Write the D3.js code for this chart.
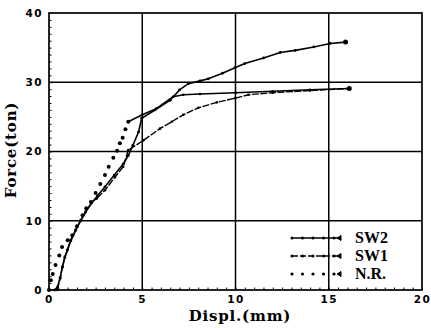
<!DOCTYPE html>
<html>
<head>
<meta charset="utf-8">
<script src="https://cdn.jsdelivr.net/npm/d3@7"></script>
<style>
  body { margin: 0; background: #fff; }
  svg { display: block; }
  .tick-label { font-family: "DejaVu Sans", sans-serif; font-weight: bold; font-size: 10.5px; letter-spacing: 1.5px; }
  .axis-label { font-family: "DejaVu Serif", serif; font-weight: bold; font-size: 15px; }
  .legend-text { font-family: "Liberation Serif", serif; font-weight: bold; font-size: 16px; }
</style>
</head>
<body>
<div id="vis"></div>
<script>
// data (Displ. in mm, Force in ton)
const nrX = [0, 0.1, 0.2, 0.35, 0.55, 0.7, 1.0, 1.25, 1.5, 1.8, 2.0, 2.25, 2.5, 2.75, 3.0, 3.2, 3.45, 3.65, 3.8, 3.95, 4.1, 4.25, 5.0, 5.75, 6.65, 7.2, 8.1, 10, 12, 14, 16.1];
const nrY = [0, 1.4, 2.3, 3.6, 5.0, 6.2, 7.2, 7.9, 9.2, 10.8, 11.8, 12.7, 14.0, 15.3, 16.6, 17.8, 19.1, 20.1, 21.2, 22.0, 23.2, 24.3, 25.3, 26.2, 27.9, 28.2, 28.3, 28.5, 28.7, 28.9, 29.1];
const nrKink = 21; // N.R. is dots only up to here, then a line

const sw2X = [0.3, 0.45, 0.6, 0.72, 0.85, 1.0, 1.17, 1.43, 1.7, 1.97, 2.3, 2.6, 3.0, 3.5, 3.98, 4.25, 4.5, 4.8, 4.97, 5.68, 6.5, 7.0, 7.47, 8.1, 8.54, 9.3, 9.97, 10.5, 11.5, 12.4, 13.2, 14.2, 15.07, 15.9];
const sw2Y = [0, 0.4, 1.8, 3.3, 4.7, 5.8, 7.1, 8.6, 10.0, 11.3, 12.6, 13.6, 14.9, 16.6, 18.2, 19.4, 20.9, 22.8, 24.8, 26.0, 27.4, 28.9, 29.8, 30.2, 30.5, 31.3, 32.1, 32.7, 33.5, 34.3, 34.6, 35.1, 35.6, 35.8];

const sw1X = [0.45, 0.6, 0.72, 0.85, 0.98, 1.16, 1.43, 1.7, 1.97, 2.3, 2.56, 3.0, 3.54, 3.98, 4.25, 5.06, 5.95, 6.58, 7.2, 8.0, 9.0, 9.97, 10.7, 12, 14, 16.1];
const sw1Y = [0, 1.7, 3.4, 4.8, 5.8, 7.2, 8.7, 10.1, 11.3, 12.7, 13.2, 14.4, 16.3, 17.8, 20.2, 21.6, 23.3, 24.3, 25.3, 26.3, 27.1, 27.7, 28.2, 28.5, 28.8, 29.1];

const xTicks = [0, 5, 10, 15, 20];
const yTicks = [0, 10, 20, 30, 40];
const legendNames = ['SW2', 'SW1', 'N.R.'];

const W = 431, H = 328;
const margin = {top: 13, right: 9, bottom: 38, left: 49};
const width = W - margin.left - margin.right;
const height = H - margin.top - margin.bottom;

const svg = d3.select('#vis')
  .append('svg')
  .attr('width', W)
  .attr('height', H);

const g = svg.append('g')
  .attr('transform', `translate(${margin.left},${margin.top})`);

const xScale = d3.scaleLinear().domain([0, 20]).range([0, width]);
const yScale = d3.scaleLinear().domain([0, 40]).range([height, 0]);

// grid lines
g.selectAll('.vgrid')
  .data(xTicks.slice(1, -1))
  .join('line')
  .attr('x1', d => xScale(d)).attr('x2', d => xScale(d))
  .attr('y1', 0).attr('y2', height)
  .attr('stroke', '#000').attr('stroke-width', 1.5);

g.selectAll('.hgrid')
  .data(yTicks.slice(1, -1))
  .join('line')
  .attr('x1', 0).attr('x2', width)
  .attr('y1', d => yScale(d)).attr('y2', d => yScale(d))
  .attr('stroke', '#000').attr('stroke-width', 1.5);

// frame
g.append('rect')
  .attr('width', width).attr('height', height)
  .attr('fill', 'none').attr('stroke', '#000').attr('stroke-width', 1.7);

// small inward ticks along left and bottom
g.append('g')
  .call(d3.axisBottom(xScale).tickValues(d3.range(0, 20.01, 0.5)).tickSize(-2.5).tickFormat(''))
  .attr('transform', `translate(0,${height})`)
  .call(a => a.select('.domain').remove());

g.append('g')
  .call(d3.axisLeft(yScale).tickValues(d3.range(0, 40.01, 1)).tickSize(-2.5).tickFormat(''))
  .call(a => a.select('.domain').remove());

// tick labels
const xAxis = g.append('g')
  .attr('transform', `translate(0,${height})`)
  .call(d3.axisBottom(xScale).tickValues(xTicks).tickSize(0).tickPadding(6));
xAxis.select('.domain').remove();
xAxis.selectAll('text').attr('class', 'tick-label').attr('fill', '#000');

const yAxis = g.append('g')
  .call(d3.axisLeft(yScale).tickValues(yTicks).tickSize(0).tickPadding(6));
yAxis.select('.domain').remove();
yAxis.selectAll('text').attr('class', 'tick-label').attr('fill', '#000');

// axis titles
svg.append('text')
  .attr('class', 'axis-label')
  .attr('x', 240).attr('y', 321)
  .attr('text-anchor', 'middle')
  .style('letter-spacing', '0.8px')
  .text('Displ.(mm)');

svg.append('text')
  .attr('class', 'axis-label')
  .attr('transform', 'translate(16,150) rotate(-90)')
  .attr('text-anchor', 'middle')
  .style('letter-spacing', '0.8px')
  .text('Force(ton)');

// curves
const line = d3.line().x(d => xScale(d[0])).y(d => yScale(d[1]));
const sw2 = d3.zip(sw2X, sw2Y);
const sw1 = d3.zip(sw1X, sw1Y);
const nr = d3.zip(nrX, nrY);

g.append('path').datum(sw2)
  .attr('d', line).attr('fill', 'none').attr('stroke', '#000').attr('stroke-width', 1.6);
g.append('path').datum(sw1)
  .attr('d', line).attr('fill', 'none').attr('stroke', '#000').attr('stroke-width', 1.4)
  .attr('stroke-dasharray', '7,1.5');
g.append('path').datum(nr.slice(nrKink))
  .attr('d', line).attr('fill', 'none').attr('stroke', '#000').attr('stroke-width', 1.5);

function dots(data, r) {
  g.append('g').selectAll('circle')
    .data(data)
    .join('circle')
    .attr('cx', d => xScale(d[0]))
    .attr('cy', d => yScale(d[1]))
    .attr('r', r)
    .attr('fill', '#000');
}
dots(sw2, 1.4);
dots(sw1, 1.3);
dots(nr.slice(0, nrKink + 1), 2);
dots(nr.slice(nrKink), 1.3);

// end markers
dots([sw2[sw2.length - 1]], 2.5);
dots([nr[nr.length - 1]], 2.5);

// legend
const legend = svg.append('g');
const legY = [238, 256, 274];
legendNames.forEach((name, i) => {
  const y = legY[i];
  const row = legend.append('g');
  if (i < 2) {
    row.append('line')
      .attr('x1', 292).attr('x2', 340).attr('y1', y).attr('y2', y)
      .attr('stroke', '#000').attr('stroke-width', i === 0 ? 1.6 : 1.3)
      .attr('stroke-dasharray', i === 0 ? null : '6,2');
  }
  row.selectAll('circle')
    .data(d3.range(292, 336, 10.5))
    .join('circle')
    .attr('cx', d => d).attr('cy', y).attr('r', i === 2 ? 1.6 : 1.5)
    .attr('fill', '#000');
  row.append('path')
    .attr('d', `M341,${y - 2.5}L337,${y}L341,${y + 2.5}Z`)
    .attr('fill', '#000').attr('stroke', '#000').attr('stroke-width', 1);
  row.append('text')
    .attr('class', 'legend-text')
    .attr('x', 355).attr('y', y + 5)
    .text(name);
});
</script>
</body>
</html>
